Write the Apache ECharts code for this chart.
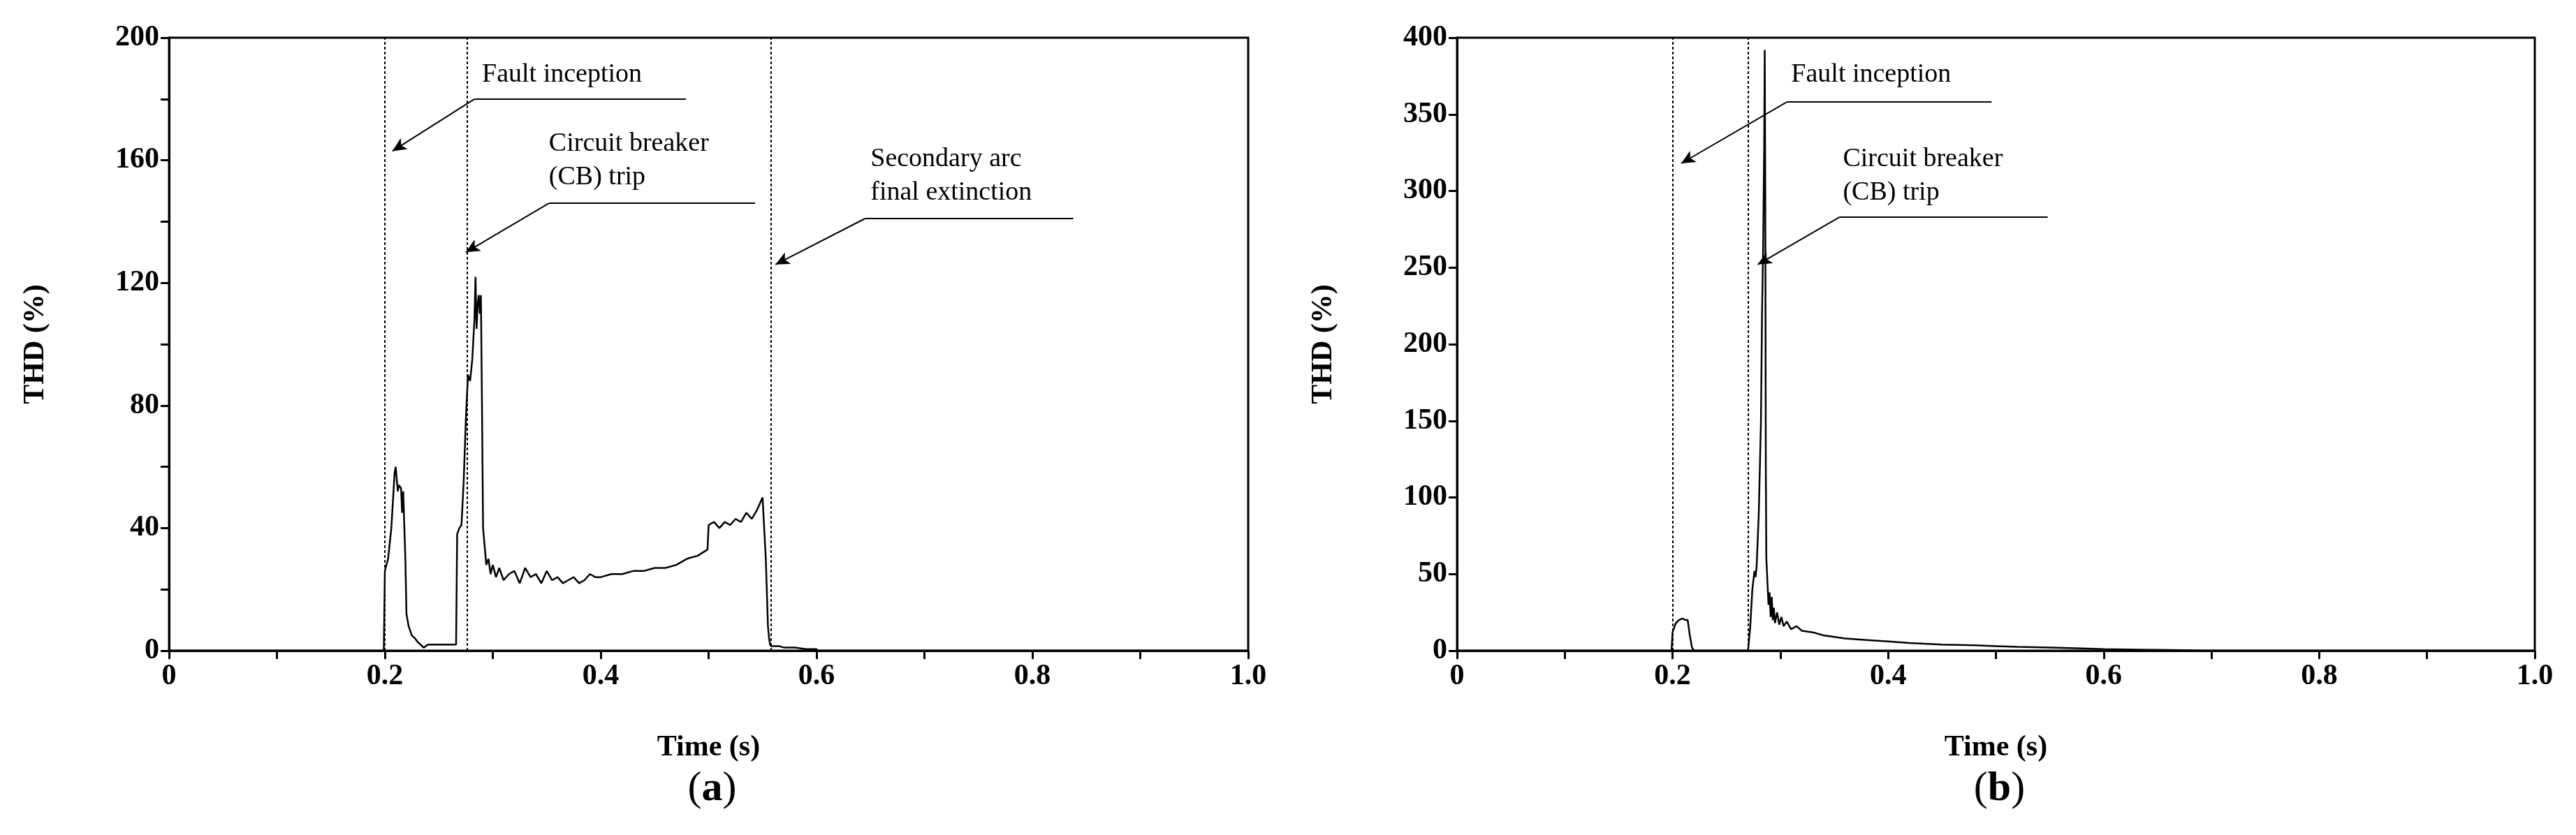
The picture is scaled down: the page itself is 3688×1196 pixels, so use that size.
<!DOCTYPE html>
<html><head><meta charset="utf-8">
<script src="https://cdn.jsdelivr.net/npm/echarts@6/dist/echarts.min.js"></script>
<style>html,body{margin:0;background:#fff}#c{width:3688px;height:1196px}</style>
</head><body><div id="c"></div>
<script>
const timeA = [0,0.1,0.199,0.2,0.203,0.206,0.209,0.21,0.212,0.213,0.215,0.216,0.217,0.219,0.22,0.222,0.225,0.228,0.23,0.233,0.236,0.24,0.25,0.26,0.266,0.267,0.269,0.271,0.273,0.275,0.277,0.279,0.281,0.283,0.284,0.285,0.286,0.287,0.288,0.289,0.29,0.291,0.292,0.293,0.294,0.296,0.298,0.3,0.303,0.306,0.31,0.315,0.32,0.325,0.33,0.335,0.34,0.345,0.35,0.355,0.36,0.365,0.37,0.375,0.38,0.385,0.39,0.395,0.4,0.41,0.42,0.43,0.44,0.45,0.46,0.47,0.48,0.49,0.499,0.5,0.505,0.51,0.515,0.52,0.525,0.53,0.535,0.54,0.545,0.55,0.553,0.555,0.556,0.557,0.558,0.56,0.565,0.57,0.58,0.59,0.6,0.601,1.0];
const thdA = [0,0,0,26,30,40,58,60,52,54,53,45,52,30,12,8,5,4,3,2,1,2,2,2,2,38,40,41,55,75,90,88,95,108,122,105,113,116,110,116,80,40,36,32,28,30,25,28,24,27,23,25,26,22,27,24,25,22,26,23,24,22,23,24,22,23,25,24,24,25,25,26,26,27,27,28,30,31,33,41,42,40,42,41,43,42,45,43,46,50,30,8,4,2,1.5,1.5,1.5,1,1,0.5,0.5,0,0];
const timeB = [0,0.1,0.199,0.2,0.203,0.206,0.209,0.212,0.214,0.216,0.218,0.22,0.25,0.27,0.272,0.274,0.276,0.277,0.278,0.28,0.282,0.283,0.284,0.285,0.2855,0.286,0.2865,0.287,0.288,0.289,0.29,0.291,0.292,0.293,0.294,0.295,0.297,0.299,0.301,0.303,0.306,0.31,0.315,0.32,0.33,0.34,0.35,0.36,0.38,0.4,0.42,0.45,0.48,0.5,0.52,0.55,0.58,0.6,0.63,0.66,0.7,1.0];
const thdB = [0,0,0,12,18,20,21,20,20,10,2,0,0,0,15,40,52,48,55,90,150,220,262,330,392,300,120,60,45,30,38,22,35,20,28,18,25,17,22,16,19,14,16,13,12,10,9,8,7,6,5,4,3.5,3,2.5,2,1.5,1,0.7,0.4,0,0];
const xTicks = [0,0.2,0.4,0.6,0.8,1.0];
const vLinesA = [0.2,0.276,0.558];
const vLinesB = [0.2,0.27];
const annA = [
 {text:'Fault inception', at:[0.29,188], ul:[[0.283,180],[0.479,180]], tip:[0.207,163]},
 {text:'Circuit breaker\n(CB) trip', at:[0.352,160], ul:[[0.352,146],[0.543,146]], tip:[0.275,130]},
 {text:'Secondary arc\nfinal extinction', at:[0.65,155], ul:[[0.645,141],[0.838,141]], tip:[0.562,126]}
];
const annB = [
 {text:'Fault inception', at:[0.31,376], ul:[[0.306,358],[0.496,358]], tip:[0.208,318]},
 {text:'Circuit breaker\n(CB) trip', at:[0.358,310], ul:[[0.355,283],[0.548,283]], tip:[0.279,252]}
];
const F = 'Liberation Serif';
function xAxis(i){return {gridIndex:i,type:'value',min:0,max:1,interval:0.1,
  name:'Time (s)',nameLocation:'middle',nameGap:118,nameTextStyle:{fontFamily:F,fontWeight:'bold',fontSize:42,color:'#000'},
  axisLine:{onZero:false,lineStyle:{color:'#000',width:3}},axisTick:{length:12,lineStyle:{width:3}},
  splitLine:{show:false},
  axisLabel:{fontFamily:F,fontWeight:'bold',fontSize:42,color:'#000',margin:16,
    formatter:v=>{const r=Math.round(v*10);if(r%2)return '';const m=xTicks.find(t=>Math.abs(t-v)<1e-6);return m===0?'0':m.toFixed(1);}}};}
function yAxis(i,max,intv,labEvery){return {gridIndex:i,type:'value',min:0,max:max,interval:intv,
  name:'THD (%)',nameLocation:'middle',nameGap:170,nameTextStyle:{fontFamily:F,fontWeight:'bold',fontSize:42,color:'#000'},
  axisLine:{lineStyle:{color:'#000',width:3}},axisTick:{length:12,lineStyle:{width:3}},splitLine:{show:false},
  axisLabel:{fontFamily:F,fontWeight:'bold',fontSize:42,color:'#000',margin:14,
    formatter:v=>(Math.round(v)%labEvery===0?String(Math.round(v)):'')}};}
function annSeries(i,anns,vl,ymax){
  const lines=[];
  vl.forEach(x=>lines.push([{coord:[x,0]},{coord:[x,ymax]}]));
  const ann=[];
  anns.forEach(a=>{
    ann.push([{coord:a.ul[0],symbol:'none'},{coord:a.ul[1],symbol:'none'}]);
    ann.push([{coord:a.ul[0],symbol:'none'},{coord:a.tip,symbol:'arrow'}]);
  });
  return [
   {type:'line',xAxisIndex:i,yAxisIndex:i,data:[],silent:true,
    markLine:{silent:true,symbol:['none','none'],animation:false,label:{show:false},
      lineStyle:{color:'#000',type:[4,3],width:2},data:lines}},
   {type:'line',xAxisIndex:i,yAxisIndex:i,data:[],silent:true,
    markLine:{silent:true,symbol:['none','none'],symbolSize:[14,20],animation:false,label:{show:false},
      lineStyle:{color:'#000',type:'solid',width:2},data:ann},
    markPoint:{symbol:'circle',symbolSize:0,animation:false,
      label:{show:true,position:'right',distance:0,fontFamily:F,fontSize:38,color:'#000',lineHeight:48},
      data:anns.map(a=>({coord:a.at,value:a.text,label:{formatter:a.text}}))}}
  ];
}
const chart = echarts.init(document.getElementById('c'));
const g0={left:242,top:54,width:1545,height:878,show:true,borderColor:'#000',borderWidth:3};
const g1={left:2086,top:54,width:1543,height:878,show:true,borderColor:'#000',borderWidth:3};
const ts={fontFamily:F,fontSize:60,fontWeight:'normal',color:'#000',rich:{a:{fontFamily:F,fontSize:60,fontWeight:'bold',color:'#000'}}};
chart.setOption({
  animation:false,backgroundColor:'#fff',
  grid:[g0,g1],
  xAxis:[xAxis(0),xAxis(1)],
  yAxis:[yAxis(0,200,20,40),yAxis(1,400,50,50)],
  title:[
   {text:'({a|a})',left:242+1545/2,top:1095,textAlign:'center',textStyle:ts},
   {text:'({a|b})',left:2086+1543/2,top:1095,textAlign:'center',textStyle:ts}
  ],
  series:[
   {type:'line',xAxisIndex:0,yAxisIndex:0,data:timeA.map((t,k)=>[t,thdA[k]]),symbol:'none',lineStyle:{color:'#000',width:2.5}},
   {type:'line',xAxisIndex:1,yAxisIndex:1,data:timeB.map((t,k)=>[t,thdB[k]]),symbol:'none',lineStyle:{color:'#000',width:2.5}},
   ...annSeries(0,annA,vLinesA,200),
   ...annSeries(1,annB,vLinesB,400)
  ]
});
</script></body></html>
